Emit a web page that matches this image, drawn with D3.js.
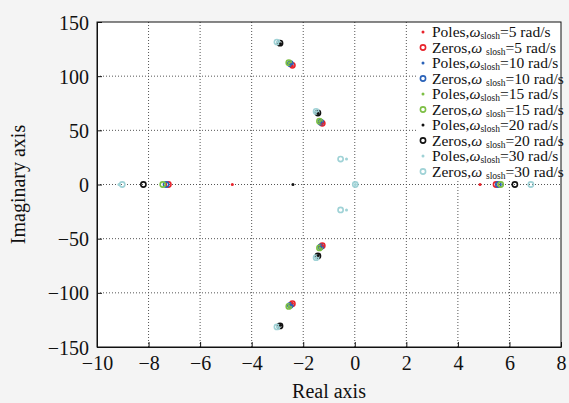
<!DOCTYPE html>
<meta charset="utf-8">
<style>
html, body { margin:0; padding:0; background:#f4f4f4; }
svg { display:block; font-family:"Liberation Serif", "Times New Roman", serif; }
.grid line { stroke:#555; stroke-width:1; stroke-dasharray:1,2; }
.axis path, .axis line { stroke:#111; }
.axis text { fill:#111; }
</style>
<div id="chart"></div>
<script src="https://cdn.jsdelivr.net/npm/d3@7"></script>
<script>
// series settings
var sloshLabels = ["5", "10", "15", "20", "30"];
var seriesColors = ["#e8232b", "#2a62b8", "#7dbf45", "#111111", "#9fd2d6"];

// poles [re, im] per omega_slosh
var poles5  = [[-4.75, 0], [4.86, 0], [-2.42, 109.5], [-2.42, -109.5], [-1.26, 56.5], [-1.26, -56.5]];
var poles10 = [[-2.48, 111], [-2.48, -111], [-1.31, 57.5], [-1.31, -57.5]];
var poles15 = [[-2.55, 112.5], [-2.55, -112.5], [-1.36, 58.5], [-1.36, -58.5]];
var poles20 = [[-2.4, 0], [-2.88, 130], [-2.88, -130], [-1.42, 65.5], [-1.42, -65.5]];
var poles30 = [[-9.15, 0], [0.02, 0], [-0.32, 23.5], [-0.32, -23.5], [-3.0, 131.5], [-3.0, -131.5], [-1.5, 67.5], [-1.5, -67.5]];

// zeros [re, im] per omega_slosh
var zeros5  = [[-7.23, 0], [5.48, 0], [-2.42, 110], [-2.42, -110], [-1.26, 56.5], [-1.26, -56.5]];
var zeros10 = [[-7.32, 0], [5.57, 0], [-2.5, 111.5], [-2.5, -111.5], [-1.32, 57.5], [-1.32, -57.5]];
var zeros15 = [[-7.45, 0], [5.66, 0], [-2.56, 112.5], [-2.56, -112.5], [-1.37, 58.5], [-1.37, -58.5]];
var zeros20 = [[-8.2, 0], [6.21, 0], [-2.9, 130.5], [-2.9, -130.5], [-1.43, 66], [-1.43, -66]];
var zeros30 = [[-9.02, 0], [6.83, 0], [0.02, 0], [-0.55, 23.5], [-0.55, -23.5], [-3.02, 131.5], [-3.02, -131.5], [-1.5, 67.5], [-1.5, -67.5]];

var xTicks = [-10, -8, -6, -4, -2, 0, 2, 4, 6, 8];
var yTicks = [-150, -100, -50, 0, 50, 100, 150];

var allPoles = [poles5, poles10, poles15, poles20, poles30];
var allZeros = [zeros5, zeros10, zeros15, zeros20, zeros30];

var W = 569, H = 403;
var margin = {top: 22, right: 8, bottom: 56, left: 97};
var w = W - margin.left - margin.right, h = H - margin.top - margin.bottom;

var svg = d3.select("#chart").append("svg").attr("width", W).attr("height", H);
var g = svg.append("g").attr("transform", "translate(" + margin.left + "," + margin.top + ")");

var x = d3.scaleLinear().domain([-10, 8]).range([0, w]);
var y = d3.scaleLinear().domain([-150, 150]).range([h, 0]);

g.append("rect").attr("width", w).attr("height", h).attr("fill", "#fff");

// dotted grid
var grid = g.append("g").attr("class", "grid");
grid.selectAll(".gx").data(xTicks.slice(1, -1)).enter().append("line")
    .attr("x1", d => x(d)).attr("x2", d => x(d)).attr("y1", 0).attr("y2", h);
grid.selectAll(".gy").data(yTicks.slice(1, -1)).enter().append("line")
    .attr("x1", 0).attr("x2", w).attr("y1", d => y(d)).attr("y2", d => y(d));

function fmt(d) { return d < 0 ? "\u2212" + Math.abs(d) : "" + d; }

var xAxis = g.append("g").attr("class", "axis").attr("transform", "translate(0," + h + ")")
  .call(d3.axisBottom(x).tickValues(xTicks).tickFormat(fmt).tickSizeInner(-5).tickSizeOuter(0).tickPadding(6));
var yAxis = g.append("g").attr("class", "axis")
  .call(d3.axisLeft(y).tickValues(yTicks).tickFormat(fmt).tickSizeInner(-5).tickSizeOuter(0).tickPadding(8));
// drop d3's sans-serif default so ticks use the page serif
[xAxis, yAxis].forEach(function(a) {
  a.attr("font-family", null).attr("font-size", 20);
});
xAxis.selectAll("text").attr("dy", "0.85em");
yAxis.selectAll("text").attr("dy", "0.35em");

// zeros then poles
allZeros.forEach(function(zs, i) {
  g.append("g").selectAll("circle").data(zs).enter().append("circle")
    .attr("cx", d => x(d[0])).attr("cy", d => y(d[1])).attr("r", 2.6)
    .attr("fill", "none").attr("stroke", seriesColors[i]).attr("stroke-width", 1.6);
});
allPoles.forEach(function(ps, i) {
  g.append("g").selectAll("circle").data(ps).enter().append("circle")
    .attr("cx", d => x(d[0])).attr("cy", d => y(d[1])).attr("r", 1.5)
    .attr("fill", seriesColors[i]);
});

// legend
var legX = w - 143, rowH = 15.5;
var leg = g.append("g").attr("transform", "translate(" + legX + ",0)");
leg.append("rect").attr("width", 143).attr("height", 157).attr("fill", "#fff");
var rows = [];
sloshLabels.forEach(function(s, i) {
  rows.push({kind: "Poles", s: s, c: seriesColors[i]});
  rows.push({kind: "Zeros", s: s, c: seriesColors[i]});
});
rows.forEach(function(r, i) {
  var yy = 10 + i * rowH;
  if (r.kind === "Poles") {
    leg.append("circle").attr("cx", 5).attr("cy", yy).attr("r", 1.5).attr("fill", r.c);
  } else {
    leg.append("circle").attr("cx", 5).attr("cy", yy).attr("r", 2.6).attr("fill", "none")
      .attr("stroke", r.c).attr("stroke-width", 1.6);
  }
  var t = leg.append("text").attr("x", 14).attr("y", yy + 5).attr("font-size", 15.5).attr("fill", "#111");
  t.append("tspan").text(r.kind + ",");
  t.append("tspan").attr("font-style", "italic").text(r.kind === "Zeros" ? "\u03c9 " : "\u03c9");
  t.append("tspan").attr("font-size", 9.5).attr("dy", 2).text("slosh");
  t.append("tspan").attr("dy", -2).text("=" + r.s + " rad/s");
});

// frame
g.append("rect").attr("width", w).attr("height", h).attr("fill", "none").attr("stroke", "#111").attr("stroke-width", 1);

// axis titles
svg.append("text").attr("x", margin.left + x(-1)).attr("y", 398).attr("text-anchor", "middle")
  .attr("font-size", 20).attr("fill", "#111").text("Real axis");
svg.append("text").attr("transform", "translate(25," + (margin.top + h / 2) + ") rotate(-90)")
  .attr("text-anchor", "middle").attr("font-size", 20).attr("fill", "#111").text("Imaginary axis");
</script>
